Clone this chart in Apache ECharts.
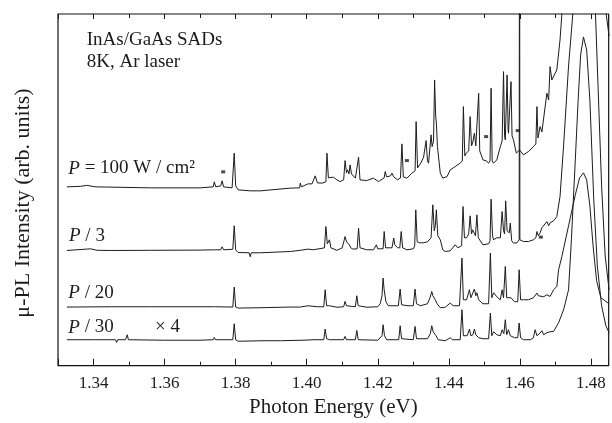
<!DOCTYPE html>
<html>
<head>
<meta charset="utf-8">
<script src="https://cdn.jsdelivr.net/npm/echarts@6/dist/echarts.min.js"></script>
<style>
  html, body { margin: 0; padding: 0; background: #fff; }
  #chart { width: 612px; height: 423px; }
</style>
</head>
<body>
<div id="chart"></div>
<script>
// μ-PL spectra, [photon energy (eV), intensity (arb. units, offset traces)]
const p100 = [
  [1.3325, 179], [1.3363, 179.5], [1.3381, 180.5], [1.3405, 179], [1.356, 178], [1.370, 178],
  [1.3737, 179], [1.3740, 184], [1.3744, 179], [1.3758, 180], [1.3762, 185], [1.3766, 179],
  [1.3790, 178], [1.3796, 212.7], [1.3800, 180], [1.3807, 176], [1.3841, 175], [1.3869, 175],
  [1.3954, 177.7], [1.3980, 178], [1.3982, 182.7], [1.3985, 179], [1.4004, 182], [1.4015, 182],
  [1.4024, 190], [1.4030, 183], [1.4043, 182.7], [1.4054, 184], [1.4057, 212.7], [1.4061, 188],
  [1.4064, 187.7], [1.4075, 188.7], [1.4085, 186], [1.4094, 184.3], [1.4104, 186], [1.4108, 205.3],
  [1.4112, 193], [1.4115, 196], [1.4119, 192], [1.4122, 201], [1.4126, 192], [1.4130, 190],
  [1.4137, 187.7], [1.4142, 188], [1.4146, 208.7], [1.4150, 186], [1.4169, 185.3], [1.4188, 187.7],
  [1.4202, 184.3], [1.4218, 188], [1.4221, 194.3], [1.4225, 189], [1.4230, 187.7], [1.4236, 190],
  [1.4240, 192.7], [1.4245, 189], [1.4249, 189.3], [1.4256, 186], [1.4264, 188], [1.4268, 222],
  [1.4272, 189], [1.4282, 187.7], [1.4296, 192.7], [1.4305, 195], [1.4308, 244.3], [1.4312, 198],
  [1.4315, 196], [1.4321, 202.7], [1.4329, 208.7], [1.4333, 207], [1.4336, 225.3], [1.4340, 205],
  [1.4343, 202.7], [1.4350, 231], [1.4353, 219.3], [1.4357, 225], [1.4360, 286], [1.4363, 250],
  [1.4365, 242.7], [1.4368, 219.3], [1.4376, 192.7], [1.4383, 187.7], [1.4395, 189.3], [1.4404, 196],
  [1.4418, 199.3], [1.4432, 202.7], [1.4438, 205], [1.4441, 259.3], [1.4445, 210], [1.4449, 212.7],
  [1.4456, 215], [1.4460, 249.3], [1.4464, 220], [1.4467, 222.7], [1.4472, 232.7], [1.4476, 220],
  [1.4479, 219.3], [1.4484, 272.7], [1.4487, 215], [1.4496, 206], [1.4505, 205], [1.4512, 202.7],
  [1.4516, 205], [1.4519, 277.7], [1.4522, 205], [1.4526, 202.7], [1.4535, 206], [1.4545, 219.3],
  [1.4550, 225], [1.4554, 294.3], [1.4557, 230], [1.4559, 226], [1.4564, 291], [1.4567, 235],
  [1.4568, 232.7], [1.4575, 284.3], [1.4578, 230], [1.4582, 226], [1.4590, 212.7], [1.4599, 216],
  [1.4610, 211], [1.4624, 214.3], [1.4638, 219.3], [1.4645, 222], [1.4648, 259.3], [1.4651, 228],
  [1.4652, 226], [1.4657, 239.3], [1.4662, 234], [1.4667, 232.7], [1.4676, 272.7], [1.4681, 266],
  [1.4685, 299.3], [1.4690, 286], [1.4695, 286], [1.4704, 296], [1.4713, 326], [1.4718, 351],
  [1.4722, 380], [1.4760, 700], [1.4779, 750], [1.4800, 700], [1.4840, 360], [1.4851, 330]
];

const p3 = [
  [1.3325, 115.3], [1.3380, 116.7], [1.3391, 117], [1.3410, 115.5], [1.3447, 115.3], [1.356, 115.5],
  [1.370, 115.7], [1.3737, 116], [1.3740, 118], [1.3743, 116], [1.3758, 116], [1.3762, 119],
  [1.3766, 116], [1.3792, 116.5], [1.3796, 140], [1.3800, 116], [1.3807, 113.3], [1.3838, 113],
  [1.3841, 109], [1.3844, 113], [1.3869, 113], [1.3954, 114.3], [1.3982, 115.5], [1.4004, 116.7],
  [1.4018, 116], [1.4043, 117.5], [1.4050, 118], [1.4054, 139.3], [1.4058, 122], [1.4064, 126],
  [1.4068, 118], [1.4085, 115.5], [1.4100, 118], [1.4105, 125], [1.4108, 129.3], [1.4112, 124],
  [1.4116, 122], [1.4120, 121], [1.4124, 118], [1.4130, 116.7], [1.4142, 117], [1.4146, 137.7],
  [1.4150, 118], [1.4169, 116], [1.4188, 116], [1.4196, 121], [1.4200, 117], [1.4215, 117],
  [1.4218, 134.3], [1.4222, 118], [1.4240, 118], [1.4245, 127.7], [1.4248, 121], [1.4253, 121],
  [1.4256, 118], [1.4262, 118], [1.4266, 134.3], [1.4270, 118], [1.4282, 116], [1.4300, 117],
  [1.4304, 120], [1.4307, 156], [1.4311, 124], [1.4318, 123], [1.4328, 123], [1.4340, 124],
  [1.4350, 128], [1.4355, 161], [1.4359, 135], [1.4362, 140], [1.4365, 156], [1.4369, 130],
  [1.4376, 126], [1.4383, 116], [1.4390, 114.3], [1.4404, 115], [1.4418, 121], [1.4425, 118],
  [1.4436, 120], [1.4440, 159.3], [1.4444, 128], [1.4450, 128], [1.4456, 132], [1.4460, 150],
  [1.4464, 132], [1.4467, 136], [1.4472, 135], [1.4475, 130], [1.4479, 151], [1.4483, 128],
  [1.4488, 126], [1.4496, 121], [1.4512, 122], [1.4516, 125], [1.4519, 166.7], [1.4523, 130],
  [1.4526, 126], [1.4535, 128], [1.4545, 128], [1.4550, 154.3], [1.4554, 135], [1.4557, 132],
  [1.4560, 165], [1.4564, 135], [1.4570, 133], [1.4573, 142.7], [1.4577, 125], [1.4582, 122.7],
  [1.4592, 123], [1.4598, 126], [1.4599, 600], [1.4600, 126], [1.4610, 124.3], [1.4624, 124.3],
  [1.4638, 126], [1.4645, 128], [1.4648, 134.3], [1.4652, 130], [1.4657, 133], [1.4662, 138],
  [1.4667, 138], [1.4676, 144.3], [1.4681, 140], [1.4685, 143], [1.4690, 145], [1.4695, 145],
  [1.4704, 149.3], [1.4713, 169.3], [1.4723, 220], [1.4737, 300], [1.4749, 352], [1.4765, 450],
  [1.4779, 500], [1.4795, 450], [1.4812, 360], [1.4820, 280], [1.4830, 180], [1.4840, 110],
  [1.4851, 76]
];

const p20 = [
  [1.3325, 58.7], [1.345, 59], [1.356, 59], [1.370, 59], [1.3737, 59], [1.3740, 61], [1.3743, 59],
  [1.3792, 58.7], [1.3796, 78.7], [1.3800, 58.7], [1.3807, 57.7], [1.3869, 58], [1.3954, 58.7],
  [1.3982, 58.7], [1.4004, 60], [1.4030, 59], [1.4048, 59], [1.4052, 76], [1.4056, 60], [1.4064, 60],
  [1.4085, 58.5], [1.4104, 59], [1.4108, 64.3], [1.4112, 60], [1.4137, 59], [1.4141, 70], [1.4145, 60],
  [1.4169, 58.5], [1.4200, 59], [1.4207, 62], [1.4212, 70], [1.4215, 87.7], [1.4218, 76], [1.4223, 64],
  [1.4230, 60], [1.4258, 60], [1.4263, 76.7], [1.4267, 61], [1.4285, 60], [1.4300, 60], [1.4305, 76.7],
  [1.4309, 62], [1.4320, 60], [1.4340, 62], [1.4347, 68], [1.4352, 74.3], [1.4355, 70], [1.4358, 72],
  [1.4362, 66], [1.4367, 62], [1.4376, 58], [1.4390, 58.5], [1.4404, 62.7], [1.4412, 60], [1.4430, 60],
  [1.4437, 107.7], [1.4441, 66], [1.4450, 66], [1.4455, 68], [1.4458, 76], [1.4462, 68], [1.4467, 70],
  [1.4472, 76.7], [1.4476, 70], [1.4479, 73], [1.4484, 66], [1.4496, 62], [1.4512, 62], [1.4517, 112.7],
  [1.4521, 68], [1.4526, 73], [1.4535, 69], [1.4545, 66], [1.4550, 76], [1.4554, 68], [1.4559, 99.3],
  [1.4563, 68], [1.4568, 69.3], [1.4575, 68], [1.4585, 64], [1.4594, 64], [1.4598, 96], [1.4602, 66],
  [1.4610, 66], [1.4624, 66], [1.4638, 68], [1.4648, 72.7], [1.4652, 70], [1.4657, 70], [1.4667, 69],
  [1.4676, 71], [1.4681, 69], [1.4685, 69.3], [1.4695, 76], [1.4704, 79.3], [1.4709, 96], [1.4718, 109],
  [1.4737, 140], [1.4756, 171], [1.4768, 188], [1.4779, 193], [1.4788, 186], [1.4797, 160],
  [1.4806, 120], [1.4816, 85], [1.4828, 68], [1.4851, 62]
];

const p30 = [
  [1.3325, 26], [1.3400, 26], [1.3462, 26], [1.3465, 23.3], [1.3468, 26], [1.3490, 26], [1.3495, 31],
  [1.3498, 26], [1.3600, 25.5], [1.3700, 25.5], [1.3737, 26], [1.3740, 28.3], [1.3743, 26],
  [1.3792, 26], [1.3796, 42], [1.3800, 26], [1.3807, 24.5], [1.3880, 25], [1.3920, 25], [1.3923, 23.3],
  [1.3926, 25], [1.3990, 25.5], [1.4020, 26], [1.4048, 26], [1.4052, 36.7], [1.4056, 27], [1.4064, 26],
  [1.4104, 26], [1.4108, 29.3], [1.4112, 26], [1.4137, 26], [1.4141, 35.3], [1.4145, 26], [1.4200, 25.5],
  [1.4212, 30], [1.4215, 41], [1.4219, 30], [1.4225, 26], [1.4259, 26], [1.4263, 40], [1.4267, 27],
  [1.4300, 26], [1.4305, 39.3], [1.4309, 27], [1.4340, 27], [1.4348, 32], [1.4352, 40], [1.4356, 34],
  [1.4360, 36], [1.4364, 30], [1.4370, 26], [1.4390, 25], [1.4404, 28], [1.4410, 26], [1.4432, 26],
  [1.4437, 56], [1.4441, 30], [1.4452, 30], [1.4458, 36.7], [1.4462, 30], [1.4468, 31], [1.4472, 36.7],
  [1.4476, 31], [1.4479, 33], [1.4484, 28], [1.4496, 27], [1.4512, 27], [1.4517, 52.7], [1.4521, 30],
  [1.4526, 34], [1.4535, 31], [1.4545, 30], [1.4550, 36], [1.4555, 32], [1.4559, 46], [1.4563, 31],
  [1.4568, 36], [1.4573, 30], [1.4585, 28], [1.4594, 28], [1.4598, 42.7], [1.4602, 28], [1.4610, 26],
  [1.4630, 26], [1.4638, 28], [1.4643, 36], [1.4648, 30], [1.4657, 32.7], [1.4662, 35], [1.4667, 31],
  [1.4676, 33], [1.4685, 34], [1.4695, 34.3], [1.4709, 43], [1.4723, 56], [1.4737, 76], [1.4745, 126],
  [1.4756, 206], [1.4764, 266], [1.4771, 311], [1.4779, 329], [1.4788, 316], [1.4797, 266],
  [1.4808, 166], [1.4818, 100], [1.4830, 60], [1.4842, 40], [1.4851, 33]
];

// small "*" marks in the spectra
const starMarks = [[1.3765, 194], [1.4282, 205.3], [1.4505, 229.3], [1.4594, 235.3], [1.4659, 128.7]];

const xAxisName = 'Photon Energy (eV)';
const yAxisName = 'μ-PL Intensity (arb. units)';
const noteLines = ['InAs/GaAs SADs', '8K, Ar laser'];

const serif = '"Liberation Serif", "DejaVu Serif", serif';
const ink = '#1c1c1c';

const chart = echarts.init(document.getElementById('chart'));

const tickLabel = v => {
  const k = v * 50;
  return Math.abs(k - Math.round(k)) < 1e-6 ? v.toFixed(2) : '';
};

const traceSeries = data => ({
  type: 'line',
  data: data,
  showSymbol: false,
  clip: true,
  lineStyle: { color: ink, width: 1 },
  itemStyle: { color: ink },
  z: 3
});

const option = {
  animation: false,
  backgroundColor: '#fff',
  grid: {
    left: 58, right: 3.3, top: 14, bottom: 57.3,
    show: true, borderColor: '#111', borderWidth: 1.2, backgroundColor: 'transparent'
  },
  xAxis: [
    {
      type: 'value', position: 'bottom', min: 1.33, max: 1.485, splitNumber: 8,
      axisLine: { show: false },
      axisTick: { inside: true, length: 7, lineStyle: { color: ink, width: 1 } },
      minorTick: { show: true, splitNumber: 2, length: 4, lineStyle: { color: ink, width: 1 } },
      axisLabel: {
        formatter: tickLabel, margin: 9, fontSize: 17, color: ink, fontFamily: serif,
        showMinLabel: false, showMaxLabel: false
      },
      splitLine: { show: false },
      name: xAxisName, nameLocation: 'middle', nameGap: 31,
      nameTextStyle: { fontSize: 21, color: ink, fontFamily: serif }
    },
    {
      type: 'value', position: 'top', min: 1.33, max: 1.485, splitNumber: 8,
      axisLine: { show: false },
      axisTick: { inside: true, length: 5, lineStyle: { color: ink, width: 1 } },
      minorTick: { show: true, splitNumber: 2, length: 4, lineStyle: { color: ink, width: 1 } },
      axisLabel: { show: false },
      splitLine: { show: false }
    }
  ],
  yAxis: {
    type: 'value', min: 0, max: 352,
    axisLine: { show: false }, axisTick: { show: false },
    axisLabel: { show: false }, splitLine: { show: false }
  },
  series: [
    traceSeries(p100),
    traceSeries(p3),
    traceSeries(p20),
    traceSeries(p30),
    {
      type: 'scatter', data: starMarks, symbol: 'rect', symbolSize: [4, 3],
      itemStyle: { color: ink }, z: 4
    }
  ],
  graphic: [
    {
      type: 'text', x: 23, y: 203, rotation: Math.PI / 2,
      style: { text: yAxisName, font: '22px ' + serif, fill: ink, align: 'center', verticalAlign: 'middle' }
    },
    {
      type: 'text', x: 86.7, y: 40.5,
      style: { text: noteLines[0], font: '19px ' + serif, fill: ink, align: 'left', verticalAlign: 'middle' }
    },
    {
      type: 'text', x: 86.7, y: 62.3,
      style: { text: noteLines[1], font: '19px ' + serif, fill: ink, align: 'left', verticalAlign: 'middle' }
    },
    {
      type: 'text', x: 68.3, y: 168.5,
      style: {
        text: '{i|P} = 100 W / cm²', font: '19px ' + serif, fill: ink, align: 'left', verticalAlign: 'middle',
        rich: { i: { fontStyle: 'italic', fontSize: 19, fontFamily: serif, fill: ink } }
      }
    },
    {
      type: 'text', x: 69, y: 236.3,
      style: {
        text: '{i|P} / 3', font: '19px ' + serif, fill: ink, align: 'left', verticalAlign: 'middle',
        rich: { i: { fontStyle: 'italic', fontSize: 19, fontFamily: serif, fill: ink } }
      }
    },
    {
      type: 'text', x: 68.3, y: 292.8,
      style: {
        text: '{i|P} / 20', font: '19px ' + serif, fill: ink, align: 'left', verticalAlign: 'middle',
        rich: { i: { fontStyle: 'italic', fontSize: 19, fontFamily: serif, fill: ink } }
      }
    },
    {
      type: 'text', x: 68.3, y: 327.5,
      style: {
        text: '{i|P} / 30', font: '19px ' + serif, fill: ink, align: 'left', verticalAlign: 'middle',
        rich: { i: { fontStyle: 'italic', fontSize: 19, fontFamily: serif, fill: ink } }
      }
    },
    {
      type: 'text', x: 155, y: 327.5,
      style: { text: '× 4', font: '19px ' + serif, fill: ink, align: 'left', verticalAlign: 'middle' }
    }
  ]
};

chart.setOption(option);
</script>
</body>
</html>
